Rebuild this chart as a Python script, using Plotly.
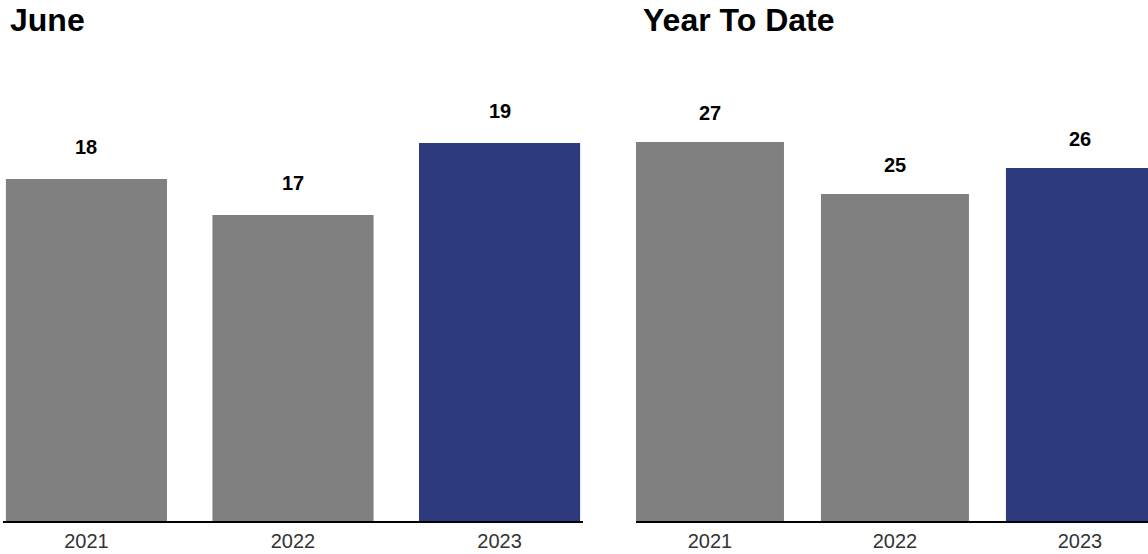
import plotly.graph_objects as go

years = ["2021", "2022", "2023"]
june_values = [18, 17, 19]
ytd_values = [27, 25, 26]
panel_titles = ["June", "Year To Date"]

GRAY = "#808080"
NAVY = "#2E3A7E"
bar_colors = [GRAY, GRAY, NAVY]

W, H = 1148, 554
plot_bottom = 521  # px from top
FONT = "Liberation Sans, Arial, sans-serif"

fig = go.Figure()
fig.add_trace(go.Bar(x=years, y=june_values, marker_color=bar_colors, width=0.78,
                     xaxis="x", yaxis="y", hoverinfo="x+y", marker_line_width=0))
fig.add_trace(go.Bar(x=years, y=ytd_values, marker_color=bar_colors, width=0.8,
                     xaxis="x2", yaxis="y2", hoverinfo="x+y", marker_line_width=0))

ann = []
for ys, xr, yr, shift in [(june_values, "x", "y", 32), (ytd_values, "x2", "y2", 29)]:
    for i, yv in enumerate(ys):
        ann.append(dict(x=i, y=yv, xref=xr, yref=yr, text=f"<b>{yv}</b>", showarrow=False,
                        yanchor="middle", yshift=shift,
                        font=dict(family=FONT, size=20, color="#000000")))

ann.append(dict(x=8 / W, y=1, xref="paper", yref="paper", xanchor="left", yanchor="top",
                text=f"<b>{panel_titles[0]}</b>", showarrow=False, yshift=0,
                font=dict(family=FONT, size=32, color="#000000")))
ann.append(dict(x=641 / W, y=1, xref="paper", yref="paper", xanchor="left", yanchor="top",
                text=f"<b>{panel_titles[1]}</b>", showarrow=False, yshift=0,
                font=dict(family=FONT, size=32, color="#000000")))

axis_common = dict(type="category", showline=True, linecolor="#000000", linewidth=2,
                   ticks="", showgrid=False, zeroline=False, ticklabelstandoff=1,
                   tickfont=dict(family=FONT, size=20, color="#333333"))
yaxis_common = dict(showline=False, showgrid=False, zeroline=False, showticklabels=False, ticks="")

fig.update_layout(
    width=W, height=H,
    margin=dict(l=0, r=0, t=0, b=H - plot_bottom),
    paper_bgcolor="white", plot_bgcolor="white",
    showlegend=False,
    xaxis=dict(domain=[3 / W, 583 / W], range=[-0.404, 2.404], anchor="y", **axis_common),
    xaxis2=dict(domain=[636 / W, 1.0], range=[-0.4, 2.368], anchor="y2", **axis_common),
    yaxis=dict(range=[8.5, 8.5 + plot_bottom / 36.0], anchor="x", **yaxis_common),
    yaxis2=dict(range=[12.42, 12.42 + plot_bottom / 26.0], anchor="x2", **yaxis_common),
    annotations=ann,
)

fig.write_html("out.html", config={"displayModeBar": False},
               post_script="document.body.style.margin='0px';")
